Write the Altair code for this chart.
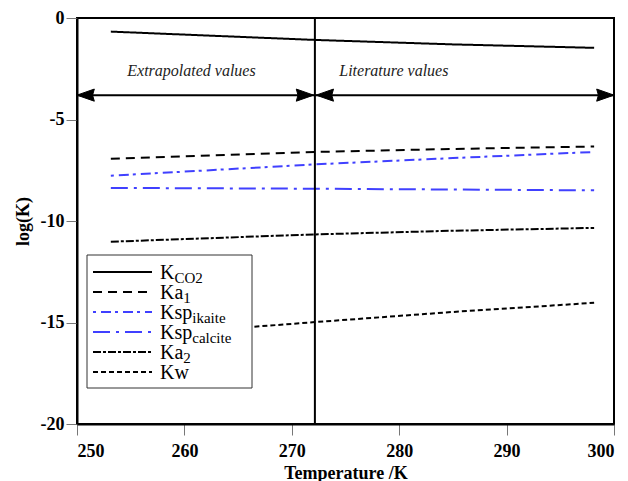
import altair as alt
import pandas as pd

# ---- data ----
temps = [253.15, 272.15, 285.0, 298.15]
series = ["KCO2", "Ka1", "Ksp_ikaite", "Ksp_calcite", "Ka2", "Kw"]
kco2 = [-0.67, -1.08, -1.30, -1.47]
ka1 = [-6.93, -6.60, -6.45, -6.33]
ksp_ikaite = [-7.77, -7.21, -6.90, -6.60]
ksp_calcite = [-8.37, -8.41, -8.45, -8.49]
ka2 = [-11.02, -10.66, -10.48, -10.34]
kw = [-15.75, -14.98, -14.48, -14.03]
values = [kco2, ka1, ksp_ikaite, ksp_calcite, ka2, kw]

legend_main = ["K", "Ka", "Ksp", "Ksp", "Ka", "Kw"]
legend_sub = ["CO2", "1", "ikaite", "calcite", "2", ""]

split_T = 272.15
arrow_y = -3.8
region_labels = ["Extrapolated values", "Literature values"]
region_x = [260.66, 279.5]
region_y = -2.61

colors = ["black", "black", "#4040ff", "#4040ff", "black", "black"]
dashes = [[1, 0], [9, 6], [3, 5, 10, 4], [17, 6, 3, 6], [8, 2, 3, 2], [5, 3]]

FONT = "Liberation Serif"

rows = []
for s, v in zip(series, values):
    for t, y in zip(temps, v):
        rows.append({"T": t, "logK": y, "series": s})
df = pd.DataFrame(rows)

xs = alt.Scale(domain=[250, 300], nice=False, zero=False)
ys = alt.Scale(domain=[-20, 0], nice=False, zero=False)

axis_common = dict(labelFont=FONT, labelFontSize=18, labelFontWeight=700, labelColor="black",
                   titleFont=FONT, titleFontSize=18, titleFontWeight=700, titleColor="black",
                   grid=False, domainColor="black", domainWidth=2, tickColor="#777",
                   tickSize=11, tickWidth=1, labelExpr="datum.value + ''")

lines = alt.Chart(df).mark_line(strokeWidth=2).encode(
    x=alt.X("T:Q", scale=xs, title="Temperature /K",
            axis=alt.Axis(values=[250, 260, 270, 280, 290, 300], labelPadding=7, titlePadding=4,
                          **axis_common)),
    y=alt.Y("logK:Q", scale=ys, title="log(K)",
            axis=alt.Axis(values=[0, -5, -10, -15, -20], labelPadding=2, titlePadding=8,
                          **axis_common)),
    color=alt.Color("series:N", scale=alt.Scale(domain=series, range=colors), legend=None),
    strokeDash=alt.StrokeDash("series:N", scale=alt.Scale(domain=series, range=dashes), legend=None),
    detail="series:N",
)

vline = alt.Chart().mark_rule(color="black", strokeWidth=2).encode(
    x=alt.datum(split_T, scale=xs), y=alt.datum(0, scale=ys), y2=alt.datum(-20)
)

shaft = alt.Chart().mark_rule(color="black", strokeWidth=2).encode(
    x=alt.datum(250, scale=xs), x2=alt.datum(300), y=alt.datum(arrow_y, scale=ys)
)

right_df = pd.DataFrame({"T": [split_T - 0.12, 300], "y": [arrow_y, arrow_y]})
left_df = pd.DataFrame({"T": [250, split_T + 0.12], "y": [arrow_y, arrow_y]})
rpath = "M0,0 L-2,-0.7 L-1.8,0 L-2,0.7 Z"
lpath = "M0,0 L2,-0.7 L1.8,0 L2,0.7 Z"
heads_r = alt.Chart(right_df).mark_point(shape=rpath, filled=True, size=300, color="black", opacity=1,
                                        stroke="black", strokeWidth=1).encode(
    x=alt.X("T:Q", scale=xs), y=alt.Y("y:Q", scale=ys))
heads_l = alt.Chart(left_df).mark_point(shape=lpath, filled=True, size=300, color="black", opacity=1,
                                       stroke="black", strokeWidth=1).encode(
    x=alt.X("T:Q", scale=xs), y=alt.Y("y:Q", scale=ys))

lab_df = pd.DataFrame({"T": region_x, "y": [region_y, region_y], "t": region_labels})
labels = alt.Chart(lab_df).mark_text(font=FONT, fontSize=16, fontStyle="italic", color="#222").encode(
    x=alt.X("T:Q", scale=xs), y=alt.Y("y:Q", scale=ys), text="t:N")

# ---- hand-made legend with subscripts ----
box = alt.Chart().mark_rect(fill="white", stroke="#333", strokeWidth=1).encode(
    x=alt.value(10), x2=alt.value(175), y=alt.value(237), y2=alt.value(370))
leg_layers = [box]
char_w = {"K": 0.722, "a": 0.444, "s": 0.389, "p": 0.5, "w": 0.722}
fs_main, fs_sub = 20, 15
for i, s in enumerate(series):
    ry = 254 + 20 * i
    leg_layers.append(alt.Chart().mark_rule(color=colors[i], strokeWidth=2, strokeDash=dashes[i]).encode(
        x=alt.value(16), x2=alt.value(75), y=alt.value(ry)))
    leg_layers.append(alt.Chart().mark_text(font=FONT, fontSize=fs_main, align="left", baseline="alphabetic",
                                            color="black", text=legend_main[i]).encode(
        x=alt.value(83), y=alt.value(ry + 7)))
    if legend_sub[i]:
        w = sum(char_w[c] for c in legend_main[i]) * fs_main
        leg_layers.append(alt.Chart().mark_text(font=FONT, fontSize=fs_sub, align="left", baseline="alphabetic",
                                                color="black", text=legend_sub[i]).encode(
            x=alt.value(83 + w), y=alt.value(ry + 11)))

chart = alt.layer(lines, vline, shaft, heads_r, heads_l, labels, *leg_layers).properties(
    width=537, height=406,
    autosize=alt.AutoSizeParams(type="none"),
    padding={"left": 69, "top": 10, "right": 6, "bottom": 57},
).configure_view(stroke="black", strokeWidth=2)

chart.save("out.html", embed_options={"renderer": "svg", "actions": False})
